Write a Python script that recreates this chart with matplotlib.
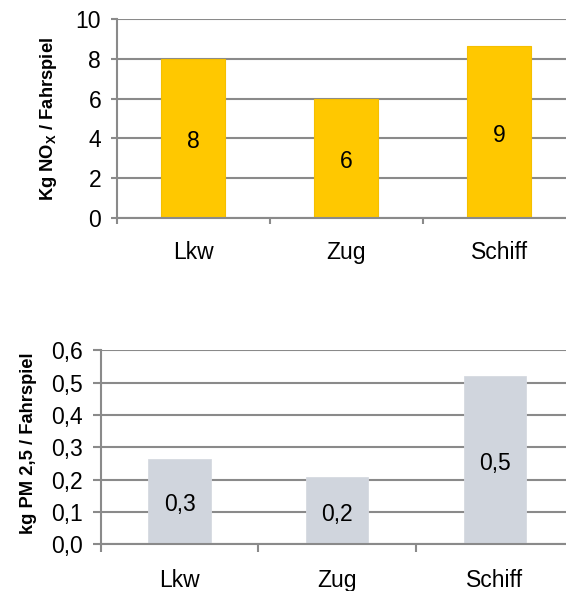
import matplotlib
matplotlib.use("Agg")
import matplotlib.pyplot as plt
from matplotlib.ticker import FixedLocator, FuncFormatter, NullFormatter

plt.rcParams["font.family"] = ["Liberation Sans", "DejaVu Sans"]
plt.rcParams["mathtext.fontset"] = "custom"
plt.rcParams["mathtext.rm"] = "Liberation Sans"

# Emissions per round trip
categories = ["Lkw", "Zug", "Schiff"]
nox_values = [8.0, 5.97, 8.67]
pm25_values = [0.265, 0.207, 0.521]

nox_ticks = [0, 2, 4, 6, 8, 10]
pm_ticks = [0.0, 0.1, 0.2, 0.3, 0.4, 0.5, 0.6]

GRID = "#8a8a8a"
FS = 16.5

fig = plt.figure(figsize=(5.66, 5.91), dpi=100)


def style_axes(ax, ticks, fmt, xmax, tick_len, cat_pad):
    ax.set_ylim(ticks[0], ticks[-1])
    ax.set_xlim(-0.5, xmax)
    ax.set_axisbelow(True)
    ax.yaxis.set_major_locator(FixedLocator(ticks))
    ax.yaxis.set_major_formatter(FuncFormatter(fmt))
    ax.grid(axis="y", color=GRID, linewidth=1.5)
    for side in ("top", "right"):
        ax.spines[side].set_visible(False)
    for side in ("left", "bottom"):
        ax.spines[side].set_color(GRID)
        ax.spines[side].set_linewidth(1.5)
    # boundary ticks between categories, labels in the middle
    ax.xaxis.set_major_locator(FixedLocator([-0.5, 0.5, 1.5, 2.5]))
    ax.xaxis.set_major_formatter(NullFormatter())
    ax.xaxis.set_minor_locator(FixedLocator(range(len(categories))))
    ax.xaxis.set_minor_formatter(FuncFormatter(lambda v, p: categories[int(round(v))]))
    ax.tick_params(axis="x", which="major", length=tick_len, width=1.5, color=GRID)
    ax.tick_params(axis="x", which="minor", length=0, pad=cat_pad, labelsize=FS)
    ax.tick_params(axis="y", length=tick_len, width=1.5, color=GRID, pad=7, labelsize=FS)


def label_bars(ax, values, fmt):
    for i, v in enumerate(values):
        ax.annotate(fmt(v), xy=(i, v / 2), xytext=(0, -2.5), textcoords="offset points",
                    ha="center", va="center", fontsize=FS, zorder=3)


# NOx chart
ax1 = fig.add_axes([116.7 / 566, 1 - 217.7 / 591, 449.3 / 566, 198.4 / 591])
ax1.bar(range(len(categories)), nox_values, width=0.42, color="#FFC800",
        edgecolor="#F5BF00", linewidth=0.8, zorder=2)
style_axes(ax1, nox_ticks, lambda v, p: f"{v:.0f}", 2.437, 4.2, 16.5)
label_bars(ax1, nox_values, lambda v: f"{v:.0f}")
ax1.set_ylabel(r"Kg NO$_\mathregular{X}$ / Fahrspiel", fontsize=13.2, fontweight="bold")
ax1.yaxis.set_label_coords((49 - 116.7) / 449.3, 0.5)
ax1.yaxis.label.set_va("center")

# PM 2.5 chart
ax2 = fig.add_axes([100.7 / 566, 1 - 544.3 / 591, 465.3 / 566, 193.9 / 591])
ax2.bar(range(len(categories)), pm25_values, width=0.395, color="#D0D5DD",
        edgecolor="#D6DAE1", linewidth=0.6, zorder=2)
style_axes(ax2, pm_ticks, lambda v, p: f"{v:.1f}".replace(".", ","), 2.45, 6.0, 18.0)
label_bars(ax2, pm25_values, lambda v: f"{v:.1f}".replace(".", ","))
ax2.set_ylabel("kg PM 2,5 / Fahrspiel", fontsize=13.2, fontweight="bold")
ax2.yaxis.set_label_coords((29 - 100.7) / 465.3, 0.52)
ax2.yaxis.label.set_va("center")

fig.savefig("out.png", dpi=100)
